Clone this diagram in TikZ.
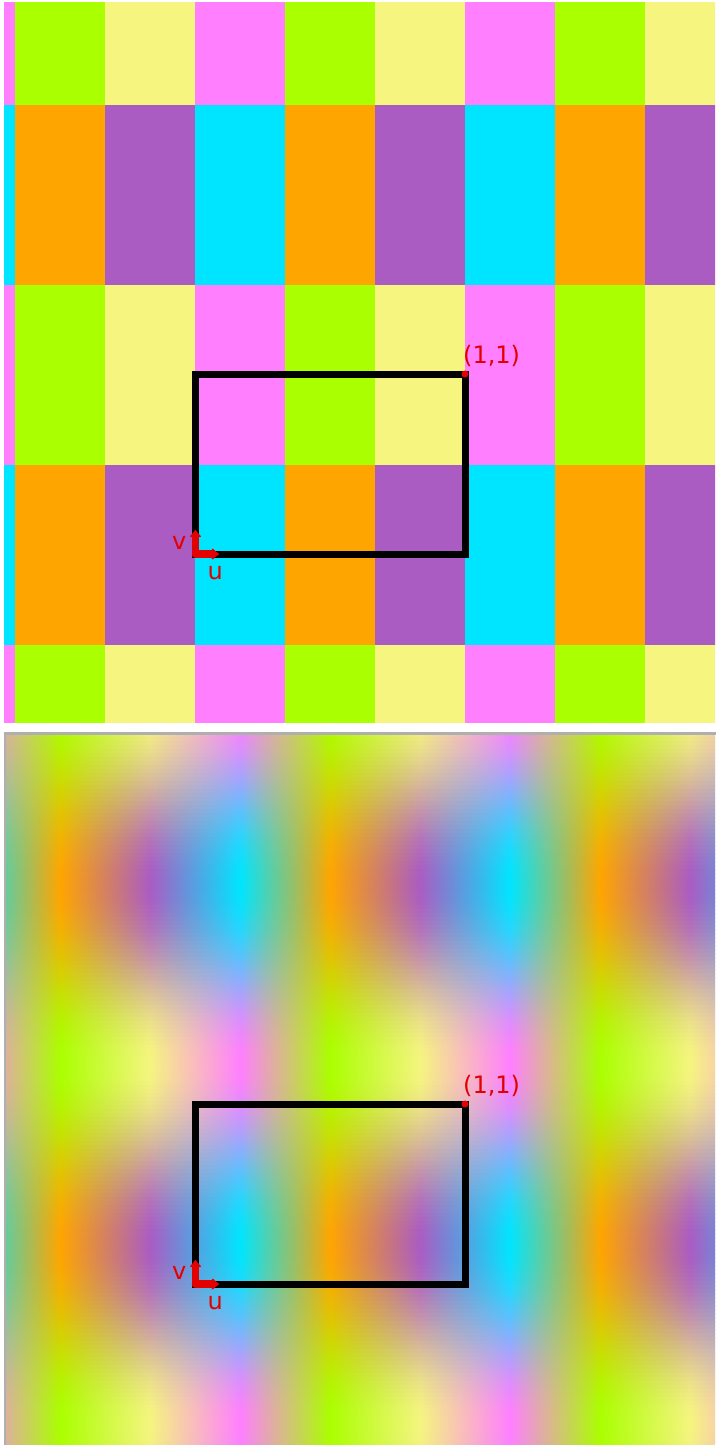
\documentclass[tikz,border=0pt]{standalone}
\usepackage{fontspec}
\setmainfont{DejaVu Sans}
\usetikzlibrary{positioning, arrows.meta}

% texture colours: row 0 = green row, row 1 = orange row
\definecolor{cell00}{HTML}{AAFF00}
\definecolor{cell01}{HTML}{F5F57F}
\definecolor{cell02}{HTML}{FF7FFF}
\definecolor{cell10}{HTML}{FFA500}
\definecolor{cell11}{HTML}{AA5CC3}
\definecolor{cell12}{HTML}{00E5FF}
\definecolor{markred}{HTML}{E30000}
\definecolor{panelgray}{HTML}{AFAFAF}

\begin{document}
\begin{tikzpicture}[
  x=1pt, y=-1pt,
  frame/.style={draw=black, line width=7pt, line join=miter},
  uvarrow/.style={draw=markred, line width=7.5pt, line cap=round, -{Latex[round, length=8pt, width=14pt]}},
  lbl/.style={text=markred, font=\fontsize{24}{28}\selectfont, inner sep=0pt}
]
  \useasboundingbox (0,0) rectangle (715,1445);

  % sharp texture
  \begin{scope}
    \clip (4,3) rectangle (715,722);
    \foreach \k in {-1,...,7}{
      \foreach \j in {0,...,4}{
        \pgfmathtruncatemacro{\ci}{mod(\k+3,3)}
        \pgfmathtruncatemacro{\ri}{mod(\j,2)}
        \fill[fill=cell\ri\ci] (15+90*\k,-75+180*\j) rectangle (105.5+90*\k,105.5+180*\j);
      }
    }
  \end{scope}

  % filtered texture, one shaded strip per row of pixels
  \begin{scope}
    \clip (4,733) rectangle (715,1445);
    \foreach \i in {0,...,178}{
      \pgfmathsetmacro{\ys}{733+4*\i}
      \pgfmathsetmacro{\ph}{mod(\ys+2-705+720,360)}
      \pgfmathtruncatemacro{\tA}{round(50+50*cos(\ph))}
      \colorlet{mixa}{cell00!\tA!cell10}
      \colorlet{mixb}{cell01!\tA!cell11}
      \colorlet{mixc}{cell02!\tA!cell12}
      \pgfdeclarehorizontalshading{blur\i}{100bp}{color(0bp)=(mixc); color(22.61bp)=(mixc);
        color(28.94bp)=(mixa); color(35.27bp)=(mixb); color(41.60bp)=(mixc);
        color(47.93bp)=(mixa); color(54.25bp)=(mixb); color(60.58bp)=(mixc);
        color(66.91bp)=(mixa); color(73.24bp)=(mixb); color(79.57bp)=(mixc); color(100bp)=(mixc)}
      \shade[shading=blur\i] (4,\ys) rectangle (715,\ys+5);
    }
  \end{scope}
  \draw[panelgray, line width=2.5pt] (5.2,733.5) rectangle (717,1447);

  % unit square and uv axes
  \foreach \p/\dy in {1/0, 2/730}{
    \coordinate (o\p) at (195.5,554+\dy);
    \coordinate (c\p) at (465,374+\dy);
    \coordinate (u\p) at (219,554+\dy);
    \coordinate (v\p) at (195.5,530+\dy);
    \draw[frame] (o\p) rectangle (c\p);
    \fill[markred] (c\p) circle (3.5);
    \draw[uvarrow] (o\p) -- (u\p);
    \draw[uvarrow] (o\p) -- (v\p);
    \node[lbl, above right=7pt and -2pt of c\p] (one\p) {(1,1)};
    \node[lbl, above left=4pt and 9pt of o\p] (vl\p) {v};
    \node[lbl, below right=12pt and 12pt of o\p] (ul\p) {u};
  }
\end{tikzpicture}
\end{document}
